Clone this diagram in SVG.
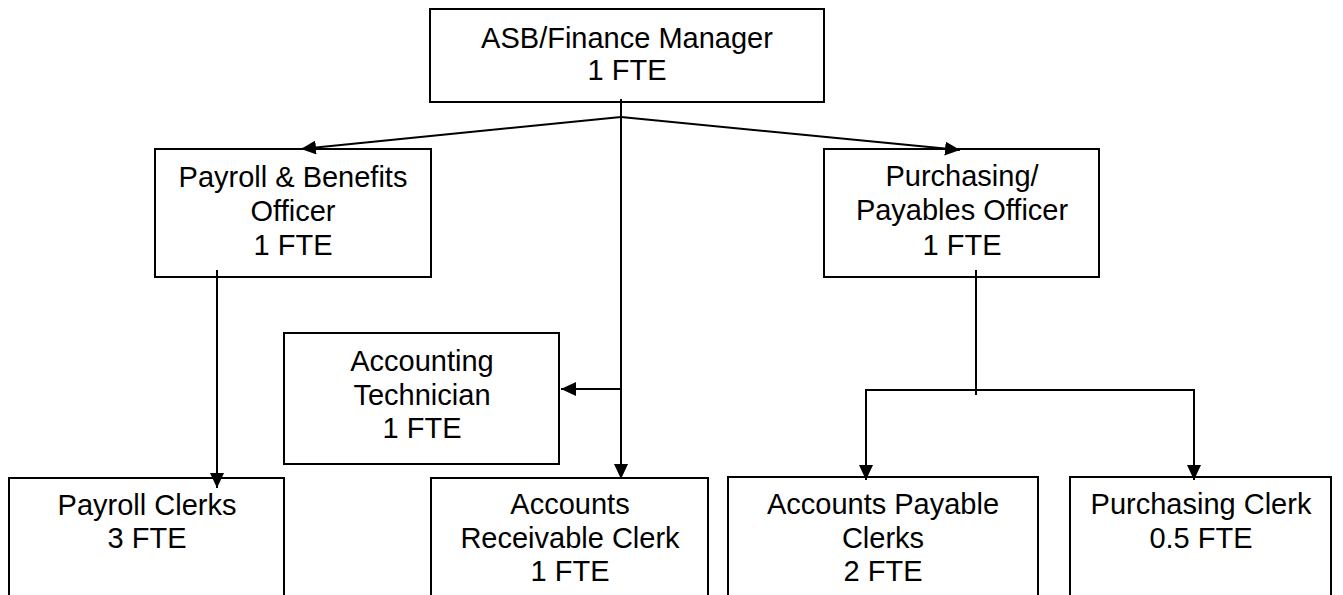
<svg xmlns="http://www.w3.org/2000/svg" width="1343" height="595" viewBox="0 0 1343 595">
<style>
.box{fill:#fff;stroke:#000;stroke-width:2}
.t{font-family:"Liberation Sans",Arial,sans-serif;font-size:29px;fill:#000;text-anchor:middle}
.c{fill:none;stroke:#000;stroke-width:2}
</style>
<defs>
<marker id="ah" markerUnits="userSpaceOnUse" markerWidth="16" markerHeight="14" refX="15" refY="7" orient="auto">
<path d="M0,0 L15,7 L0,14 Z" fill="#000"/>
</marker>
</defs>
<rect width="1343" height="595" fill="#fff"/>
<g id="n-manager"><rect class="box" x="430" y="9" width="394" height="93"/>
<text class="t" x="627" y="48">ASB/Finance Manager</text><text class="t" x="627" y="80">1 FTE</text></g>
<g id="n-payroll-officer"><rect class="box" x="155" y="149" width="276" height="128"/>
<text class="t" x="293" y="187">Payroll &amp; Benefits</text><text class="t" x="293" y="221">Officer</text><text class="t" x="293" y="255">1 FTE</text></g>
<g id="n-purchasing-officer"><rect class="box" x="824" y="149" width="275" height="128"/>
<text class="t" x="962" y="186">Purchasing/</text><text class="t" x="962" y="220">Payables Officer</text><text class="t" x="962" y="255">1 FTE</text></g>
<g id="n-accounting-tech"><rect class="box" x="284" y="333" width="275" height="131"/>
<text class="t" x="422" y="371">Accounting</text><text class="t" x="422" y="405">Technician</text><text class="t" x="422" y="438">1 FTE</text></g>
<g id="n-payroll-clerks"><rect class="box" x="9" y="478" width="275" height="130"/>
<text class="t" x="147" y="515">Payroll Clerks</text><text class="t" x="147" y="548">3 FTE</text></g>
<g id="n-ar-clerk"><rect class="box" x="431" y="478" width="277" height="130"/>
<text class="t" x="570" y="514">Accounts</text><text class="t" x="570" y="548">Receivable Clerk</text><text class="t" x="570" y="581">1 FTE</text></g>
<g id="n-ap-clerks"><rect class="box" x="728" y="477" width="310" height="130"/>
<text class="t" x="883" y="514">Accounts Payable</text><text class="t" x="883" y="548">Clerks</text><text class="t" x="883" y="581">2 FTE</text></g>
<g id="n-purchasing-clerk"><rect class="box" x="1070" y="477" width="261" height="130"/>
<text class="t" x="1201" y="514">Purchasing Clerk</text><text class="t" x="1201" y="548">0.5 FTE</text></g>
<g id="connectors">
<line class="c" x1="621" y1="99" x2="621" y2="479" marker-end="url(#ah)"/>
<line class="c" x1="621" y1="117" x2="301" y2="149" marker-end="url(#ah)"/>
<line class="c" x1="621" y1="117" x2="960" y2="150" marker-end="url(#ah)"/>
<line class="c" x1="621" y1="389" x2="561" y2="389" marker-end="url(#ah)"/>
<line class="c" x1="217" y1="270" x2="217" y2="488" marker-end="url(#ah)"/>
<line class="c" x1="976" y1="270" x2="976" y2="395"/>
<polyline class="c" points="866,480 866,390 1194,390 1194,480"/>
<line class="c" x1="866" y1="390" x2="866" y2="480" marker-end="url(#ah)"/>
<line class="c" x1="1194" y1="390" x2="1194" y2="480" marker-end="url(#ah)"/>
</g>
</svg>
